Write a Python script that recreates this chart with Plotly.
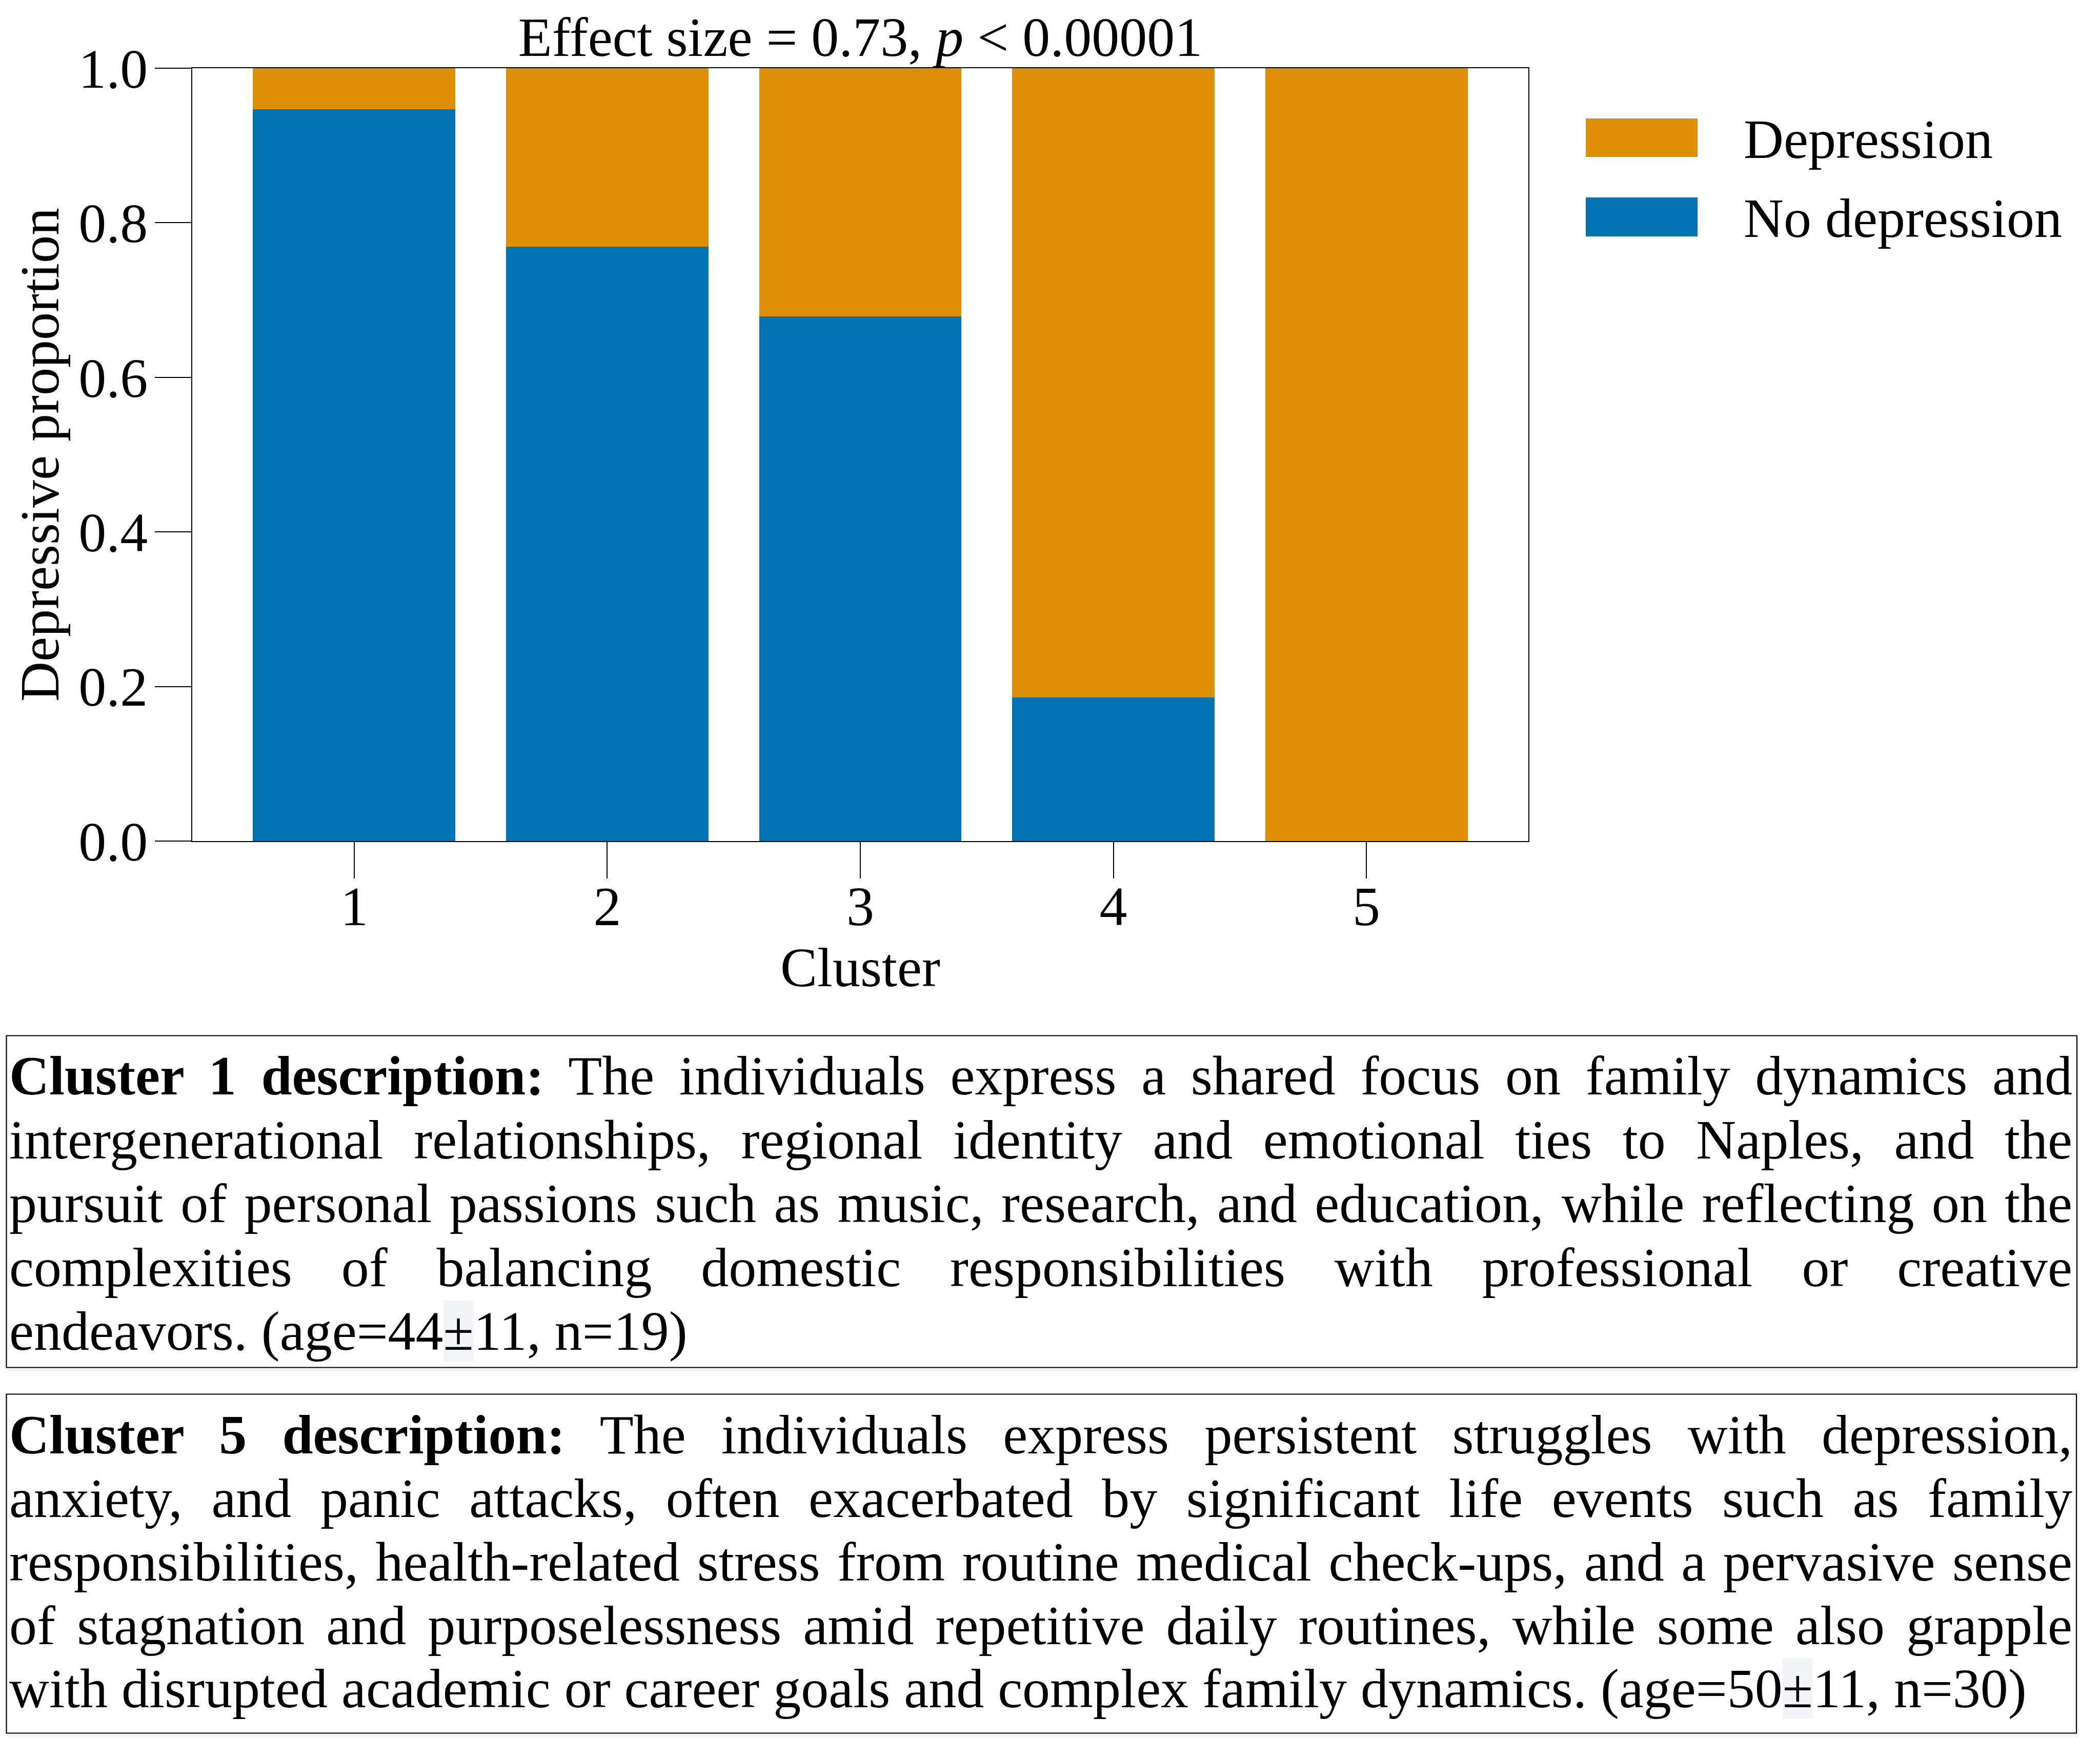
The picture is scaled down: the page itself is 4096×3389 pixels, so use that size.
import plotly.graph_objects as go
import json

# ---------------- data ----------------
clusters = [1, 2, 3, 4, 5]
no_depression = [0.947, 0.769, 0.679, 0.186, 0.0]
depression = [0.053, 0.231, 0.321, 0.814, 1.0]
series_names = ["Depression", "No depression"]
colors = {"Depression": "#DE8F05", "No depression": "#0173B2"}
y_ticks = [0.0, 0.2, 0.4, 0.6, 0.8, 1.0]
y_tick_labels = ["0.0", "0.2", "0.4", "0.6", "0.8", "1.0"]
title_text = "Effect size = 0.73, <i>p</i> < 0.00001"
x_title = "Cluster"
y_title = "Depressive proportion"

box1_lines = [
    "<b>Cluster 1 description:</b> The individuals express a shared focus on family dynamics and",
    "intergenerational relationships, regional identity and emotional ties to Naples, and the",
    "pursuit of personal passions such as music, research, and education, while reflecting on the",
    "complexities of balancing domestic responsibilities with professional or creative",
    "endeavors. (age=44\u00b111, n=19)",
]
box2_lines = [
    "<b>Cluster 5 description:</b> The individuals express persistent struggles with depression,",
    "anxiety, and panic attacks, often exacerbated by significant life events such as family",
    "responsibilities, health-related stress from routine medical check-ups, and a pervasive sense",
    "of stagnation and purposelessness amid repetitive daily routines, while some also grapple",
    "with disrupted academic or career goals and complex family dynamics. (age=50\u00b111, n=30)",
]

# ---------------- layout constants (window px) ----------------
W, H = 4096, 3389
L, R, T, B = 375, 2981, 133, 1640
PW, PH = R - L, B - T
FONT = "Liberation Serif"
FS = 108
ASC_SHIFT = 0.3375 * FS  # baseline -> bbox centre


def px(x):
    return (x - L) / PW


def py(y):
    return (B - y) / PH


fig = go.Figure()
fig.add_trace(go.Bar(x=clusters, y=no_depression, name="No depression",
                     marker=dict(color=colors["No depression"], line=dict(width=0)),
                     width=0.8, showlegend=False))
fig.add_trace(go.Bar(x=clusters, y=depression, name="Depression",
                     marker=dict(color=colors["Depression"], line=dict(width=0)),
                     width=0.8, showlegend=False))

shapes = []
annotations = []

# manual legend
legend_rows = [("Depression", 231, 306, 308), ("No depression", 385, 461, 462)]
for name, y0, y1, base in legend_rows:
    shapes.append(dict(type="rect", xref="paper", yref="paper",
                       x0=px(3093), x1=px(3311), y0=py(y1), y1=py(y0),
                       fillcolor=colors[name], line=dict(width=0)))
    annotations.append(dict(text=name, xref="paper", yref="paper",
                            x=px(3400), y=py(base - ASC_SHIFT), xanchor="left", yanchor="middle",
                            showarrow=False, borderpad=0,
                            font=dict(family=FONT, size=FS, color="black")))

# description boxes
boxes = [
    (box1_lines, 12.5, 4051, 2019.5, 2666.5, 2134.2, 124.5),
    (box2_lines, 12.5, 4050, 2718.5, 3379.5, 2834.2, 123.8),
]
justify_idx = []
hilite_idx = []
TEXT_X0 = 17
TEXT_X1 = 4041
for lines, bx0, bx1, by0, by1, base0, step in boxes:
    shapes.append(dict(type="rect", xref="paper", yref="paper",
                       x0=px(bx0 + 2), x1=px(bx1 + 4), y0=py(by1 + 8), y1=py(by0 + 3),
                       fillcolor="rgba(0,0,0,0.045)", line=dict(width=0)))
    shapes.append(dict(type="rect", xref="paper", yref="paper",
                       x0=px(bx0), x1=px(bx1), y0=py(by1), y1=py(by0),
                       fillcolor="white", line=dict(color="black", width=2.2)))
    for i, line in enumerate(lines):
        base = base0 + i * step
        idx = len(annotations)
        if i < len(lines) - 1:
            justify_idx.append(idx)
        if "\u00b1" in line:
            hilite_idx.append(idx)
        annotations.append(dict(text=line, xref="paper", yref="paper",
                                x=px(TEXT_X0), y=py(base - ASC_SHIFT),
                                xanchor="left", yanchor="middle", align="left",
                                showarrow=False, borderpad=0,
                                font=dict(family=FONT, size=FS, color="black")))

fig.update_layout(
    width=W, height=H,
    margin=dict(l=L, r=W - R, t=T, b=H - B, autoexpand=False),
    paper_bgcolor="white", plot_bgcolor="white",
    barmode="stack", bargap=0.2,
    font=dict(family=FONT, size=FS, color="black"),
    title=dict(text=title_text, x=0.5, xref="paper", xanchor="center",
               y=1 - (108.7 - 0.35 * FS) / H, yref="container", yanchor="middle",
               font=dict(family=FONT, size=FS, color="black")),
    xaxis=dict(range=[0.36, 5.64], tickmode="array", tickvals=clusters,
               ticktext=[str(c) for c in clusters],
               ticks="outside", ticklen=71, tickwidth=2.2, tickcolor="black",
               ticklabelstandoff=-39,
               showline=True, linecolor="black", linewidth=2.4, mirror=True,
               showgrid=False, zeroline=False,
               tickfont=dict(family=FONT, size=FS),
               title=dict(text=x_title, standoff=0, font=dict(family=FONT, size=FS))),
    yaxis=dict(range=[0, 1], tickmode="array", tickvals=y_ticks, ticktext=y_tick_labels,
               ticks="outside", ticklen=71, tickwidth=2.2, tickcolor="black",
               ticklabelstandoff=-8,
               showline=True, linecolor="black", linewidth=2.4, mirror=True,
               showgrid=False, zeroline=False,
               tickfont=dict(family=FONT, size=FS),
               title=dict(text=y_title, standoff=2, font=dict(family=FONT, size=FS))),
    shapes=shapes,
    annotations=annotations,
)

post_js = """
(function(){
  var gd = document.getElementById('{plot_id}');
  var JUST = %s;
  var HILITE = %s;
  var TARGET = %f;
  function run(){
    var groups = gd.querySelectorAll('g.annotation');
    groups.forEach(function(g){
      var idx = parseInt(g.getAttribute('data-index'));
      var t = g.querySelector('text.annotation-text');
      if(!t) return;
      if(JUST.indexOf(idx) >= 0){
        t.style.wordSpacing = '0px';
        var w = t.getComputedTextLength();
        var s = (t.textContent.match(/ /g) || []).length;
        if(s > 0){ t.style.wordSpacing = ((TARGET - w) / s) + 'px'; }
      }
      if(HILITE.indexOf(idx) >= 0){
        var k = t.textContent.indexOf('\\u00b1');
        if(k >= 0){
          var old = t.parentNode.querySelector('rect.pm-hl');
          if(old) old.remove();
          var e = t.getExtentOfChar(k);
          var r = document.createElementNS('http://www.w3.org/2000/svg', 'rect');
          r.setAttribute('class', 'pm-hl');
          r.setAttribute('x', e.x); r.setAttribute('y', e.y);
          r.setAttribute('width', e.width); r.setAttribute('height', e.height);
          r.setAttribute('fill', '#f4f5f8');
          t.parentNode.insertBefore(r, t);
        }
      }
    });
  }
  run();
  if(document.fonts && document.fonts.ready){ document.fonts.ready.then(run); }
  if(gd.on){ gd.on('plotly_afterplot', run); }
})();
""" % (json.dumps(justify_idx), json.dumps(hilite_idx), TEXT_X1 - TEXT_X0)

fig.write_html("out.html", post_script=post_js)
